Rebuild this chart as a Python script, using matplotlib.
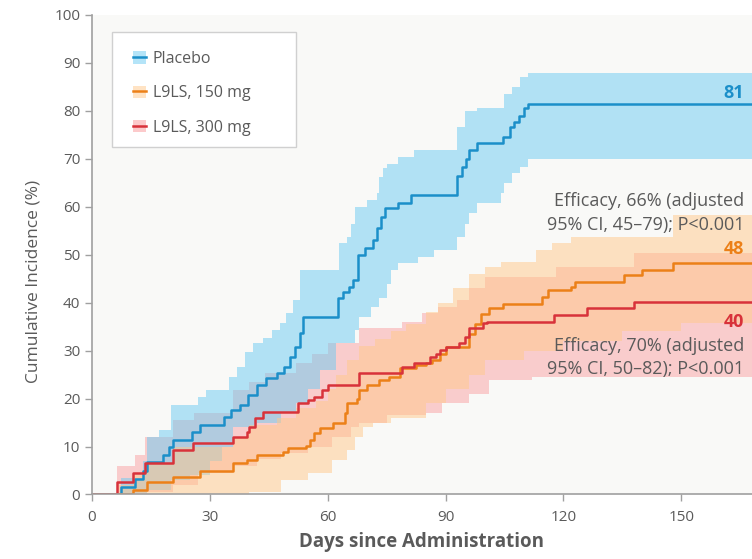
import numpy as np
import matplotlib
matplotlib.use("Agg")
import matplotlib.pyplot as plt
from matplotlib.patches import Patch, Rectangle
from matplotlib.lines import Line2D

plt.rcParams['font.family'] = ['Open Sans', 'DejaVu Sans']

X_END = 168

# step curves (day, cumulative incidence %)
placebo_days = [0, 7.5, 11, 13, 14, 18, 19.5, 20.5, 25.4, 27.5, 33.5, 35.5, 37.6, 39.7,
                41.9, 44.4, 47, 49, 50.3, 51.6, 52.9, 53.7, 62.6, 64, 65.5, 66.5, 67.8,
                69.5, 71.5, 72.5, 73.5, 74.5, 78, 81.3, 92.8, 94.3, 95.3, 96, 98, 104.5,
                106.3, 107.5, 108.8, 110, 111]
placebo_inc = [0, 1.6, 3.2, 5, 6.8, 8.2, 9.8, 11.4, 13, 14.5, 16.2, 17.6, 18.6, 20.7,
               22.8, 24.3, 25.3, 26.6, 28.6, 30.8, 33.6, 37, 41, 42.2, 43.2, 44.7, 49.9,
               51.4, 53, 55.5, 57.8, 59.7, 60.7, 62.4, 66.5, 68.2, 70, 71.8, 73.2, 74.5,
               76.6, 77.6, 79, 80.5, 81.5]

mg150_days = [0, 10.5, 14, 20.6, 27.5, 36, 39.5, 42, 48.7, 50, 54.6, 55.5, 56.5, 58,
              61.3, 64.5, 65, 67.5, 68, 70, 73, 75.5, 78.3, 82.5, 85, 86.5, 88.5, 90,
              96, 97.5, 99, 101, 104.5, 114.5, 116, 122, 123, 135.5, 140, 148]
mg150_inc = [0, 1, 2.6, 3.6, 5, 6.5, 7.2, 8.2, 8.9, 9.7, 10.2, 11.4, 12.8, 13.8,
             14.9, 17, 19, 20, 21.8, 22.8, 23.8, 24.5, 26.3, 27, 27.4, 28, 29.4, 30.8,
             33.5, 35.5, 37.7, 38.8, 39.8, 41.2, 42.6, 43.3, 44.3, 45.7, 46.8, 48.2]

mg300_days = [0, 6.3, 10.5, 13.5, 20.6, 25.7, 36, 39.4, 40, 41.5, 43.6, 52.5, 55, 56.5,
              58.5, 60, 68, 79, 82, 86, 87.5, 88.5, 90, 93.5, 95, 96, 99.5, 100.5,
              117.7, 126, 138]
mg300_inc = [0, 2.6, 4.4, 6.5, 9.2, 10.7, 12, 13, 14, 16, 17.2, 19, 19.7, 20.3,
             21.7, 22.8, 25.3, 26.6, 27.4, 28.7, 29.4, 30.1, 30.8, 31.5, 32.9, 34.7, 35.7, 36,
             37.4, 38.8, 40.1]

# 95% confidence bands (upper / lower step curves)
placebo_hi_days = [0, 7.5, 13, 14, 17, 20, 27, 29, 35, 37, 39, 41, 43.6, 45.7, 47.8, 49.5,
                   51.2, 53, 63, 65, 66, 67, 70, 72.5, 73, 74, 75, 78, 82, 93, 95, 98, 105,
                   107, 109, 111]
placebo_hi = [0, 3.5, 7, 12, 13.4, 18.6, 20.4, 21.8, 24.5, 26.6, 29.8, 31.5, 32.6, 34.3, 35.7,
              37.8, 40.5, 46.8, 52.4, 53.7, 56.5, 60, 61.4, 62.8, 66.2, 68, 69, 70.4, 71.8,
              76.6, 80, 80.5, 83.6, 85, 87, 88]
placebo_lo_days = [0, 8, 14, 20, 25, 30, 33, 36, 42, 48, 52, 55, 58, 62, 67, 68, 71, 73, 75,
                   76, 78, 83, 87, 93, 95, 96, 98, 104, 105, 107, 109, 111]
placebo_lo = [0, 0.3, 1, 3, 4, 7, 10, 14, 15, 17, 19, 22, 26, 31.5, 34.3, 37, 39, 41, 44,
              46.8, 48.2, 49.5, 51, 53.6, 56.5, 58.6, 60.7, 62.8, 64.9, 67, 68.2, 70]

mg150_hi_days = [0, 7, 10.5, 14, 20.6, 36, 40, 47, 52, 57, 60, 62, 65, 68, 72, 76, 80, 85,
                 88, 92, 96, 100, 104, 113, 117, 122, 148]
mg150_hi = [0, 2, 4, 6.5, 10, 12, 14.5, 16, 18, 19.5, 22, 25, 28, 31, 32.5, 34, 35.5, 38,
            40, 43, 46, 47.4, 48.4, 50.9, 52.4, 53.7, 58.2]
mg150_lo_days = [0, 40, 48, 55, 61, 65, 67, 69, 71.5, 76, 85, 90, 96, 100, 110, 120, 135, 150]
mg150_lo = [0, 0.5, 3, 4.4, 7.2, 9.2, 12, 14, 14.9, 16, 19, 22, 25, 28, 30, 32, 34, 35.7]

mg300_hi_days = [0, 6.3, 11, 13.5, 20.6, 26, 36, 40, 44, 52, 56, 60, 68, 79, 84, 88, 93, 96,
                 100, 118, 138]
mg300_hi = [0, 6, 8.3, 12, 15.5, 17, 21.8, 23.5, 25.3, 27.4, 29.4, 31.5, 34.7, 36, 37.8, 39,
            40.5, 43, 45.3, 47.4, 50.3]
mg300_lo_days = [0, 14, 20.6, 27, 36, 42, 48, 55, 61, 66, 68, 75, 85, 89, 96, 101, 112]
mg300_lo = [0, 0.5, 2, 4.4, 6, 7.5, 8.6, 10, 12, 14, 15, 16.5, 17, 19, 21, 23.8, 24.5]

x_ticks = [0, 30, 60, 90, 120, 150]
y_ticks = list(range(0, 101, 10))

C_BLUE, C_ORANGE, C_RED = "#1b8fc9", "#ec8018", "#d8323a"
F_BLUE, F_ORANGE, F_RED = "#6bcbf3", "#ffc98a", "#fb9799"
TXT = "#5a5a5a"


def ext(days, vals):
    return list(days) + [X_END], list(vals) + [vals[-1]]


def band(hd, hv, ld, lv):
    # evaluate both step curves on the union of their change points
    grid = np.union1d(hd, ld)
    hi = np.asarray(hv)[np.searchsorted(hd, grid, side="right") - 1]
    lo = np.asarray(lv)[np.searchsorted(ld, grid, side="right") - 1]
    grid = np.append(grid, X_END)
    return grid, np.append(lo, lo[-1]), np.append(hi, hi[-1])


fig = plt.figure(figsize=(7.52, 5.59), dpi=100)
ax = fig.add_axes([0.1223, 0.1154, 0.8777, 0.8578])
ax.set_facecolor("#f9f9f7")

series = [
    (mg300_hi_days, mg300_hi, mg300_lo_days, mg300_lo, F_RED, 0.45),
    (placebo_hi_days, placebo_hi, placebo_lo_days, placebo_lo, F_BLUE, 0.5),
    (mg150_hi_days, mg150_hi, mg150_lo_days, mg150_lo, F_ORANGE, 0.5),
]
for hd, hv, ld, lv, fc, a in series:
    g, lo, hi = band(hd, hv, ld, lv)
    ax.fill_between(g, lo, hi, step="post", color=fc, alpha=a, lw=0)

for d, v, c in [(placebo_days, placebo_inc, C_BLUE),
                (mg150_days, mg150_inc, C_ORANGE),
                (mg300_days, mg300_inc, C_RED)]:
    xx, yy = ext(d, v)
    ax.step(xx, yy, where="post", color=c, lw=1.8)

ax.set_xlim(0, X_END)
ax.set_ylim(0, 100)
ax.set_xticks(x_ticks)
ax.set_yticks(y_ticks)
for s in ("top", "right"):
    ax.spines[s].set_visible(False)
for s in ("left", "bottom"):
    ax.spines[s].set_color("#a0a0a0")
    ax.spines[s].set_linewidth(1.2)
ax.tick_params(colors="#a0a0a0", labelcolor=TXT, labelsize=11, length=5, width=1)
ax.tick_params(axis="x", pad=6)
ax.set_xlabel("Days since Administration", fontsize=13.5, color=TXT, fontweight="bold", labelpad=5)
ax.set_ylabel("Cumulative Incidence (%)", fontsize=12.5, color=TXT)
ax.yaxis.set_label_coords(-0.076, 0.445)

# end-point labels
ax.text(166, placebo_inc[-1] + 2.3, "81", color=C_BLUE, ha="right", va="center",
        fontsize=13, fontweight="bold")
ax.text(166, mg150_inc[-1] + 3.1, "48", color=C_ORANGE, ha="right", va="center",
        fontsize=13, fontweight="bold")
ax.text(166, mg300_inc[-1] - 4.1, "40", color=C_RED, ha="right", va="center",
        fontsize=13, fontweight="bold")

ax.text(166, 61.3, "Efficacy, 66% (adjusted", color=TXT, ha="right", va="center", fontsize=13)
ax.text(166, 56.1, "95% CI, 45\u201379); P<0.001", color=TXT, ha="right", va="center", fontsize=13)
ax.text(166, 31.0, "Efficacy, 70% (adjusted", color=TXT, ha="right", va="center", fontsize=13)
ax.text(166, 26.2, "95% CI, 50\u201382); P<0.001", color=TXT, ha="right", va="center", fontsize=13)

# legend box drawn separately so its size matches the original
ax.add_patch(Rectangle((0.0303, 0.7247), 0.2787, 0.2399, transform=ax.transAxes,
                       facecolor="white", edgecolor="#d0d0d0", lw=1, zorder=4))
handles = []
for fc, lc in [(F_BLUE, C_BLUE), (F_ORANGE, C_ORANGE), (F_RED, C_RED)]:
    handles.append((Patch(facecolor=fc, alpha=0.5, lw=0), Line2D([], [], color=lc, lw=1.8)))
leg = ax.legend(handles, ["Placebo", "L9LS, 150 mg", "L9LS, 300 mg"],
                loc="upper left", bbox_to_anchor=(0.062, 0.925), fontsize=11.5,
                handlelength=0.8, handleheight=0.8, labelspacing=1.15, borderpad=0,
                handletextpad=0.45, borderaxespad=0, frameon=False)
leg.set_zorder(5)
for t in leg.get_texts():
    t.set_color(TXT)

fig.savefig("out.png", dpi=100)
